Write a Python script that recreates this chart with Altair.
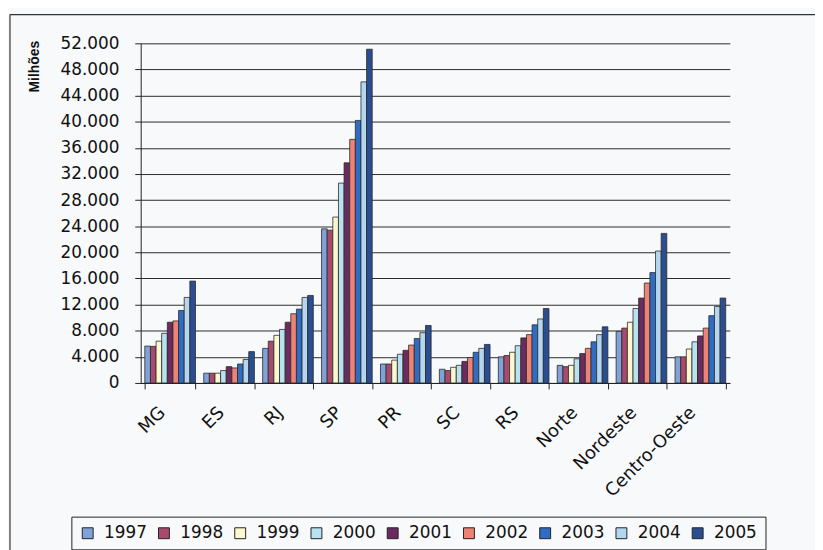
import altair as alt
import pandas as pd

regions = ["MG", "ES", "RJ", "SP", "PR", "SC", "RS", "Norte", "Nordeste", "Centro-Oeste"]
years = ["1997", "1998", "1999", "2000", "2001", "2002", "2003", "2004", "2005"]

v1997 = [5650, 1500, 5300, 23600, 2900, 2100, 4000, 2700, 7900, 4000]
v1998 = [5600, 1500, 6400, 23400, 2900, 1900, 4200, 2500, 8400, 4000]
v1999 = [6400, 1500, 7300, 25400, 3500, 2400, 4700, 2700, 9300, 5200]
v2000 = [7600, 1900, 8200, 30600, 4400, 2700, 5700, 3700, 11400, 6300]
v2001 = [9300, 2500, 9300, 33700, 5000, 3300, 6900, 4500, 13000, 7200]
v2002 = [9500, 2300, 10600, 37300, 5800, 3900, 7400, 5300, 15300, 8400]
v2003 = [11100, 2900, 11300, 40200, 6800, 4700, 8900, 6300, 16900, 10300]
v2004 = [13100, 3600, 13100, 46100, 7700, 5300, 9800, 7400, 20200, 11700]
v2005 = [15600, 4800, 13400, 51100, 8800, 5900, 11400, 8600, 22900, 13000]

series = [v1997, v1998, v1999, v2000, v2001, v2002, v2003, v2004, v2005]
colors = ["#7fa3d9", "#a84a6c", "#fbf8cf", "#b8e2ef", "#6a2b60",
          "#ee8274", "#2f6cc2", "#b4d6ef", "#2b4d92"]
y_ticks = list(range(0, 52001, 4000))

rows = []
for y, vals in zip(years, series):
    for r, v in zip(regions, vals):
        rows.append({"region": r, "year": y, "value": v})
df = pd.DataFrame(rows)

FONT = "DejaVu Sans"

bars = alt.Chart(df).mark_bar(stroke="#2a2a2a", strokeWidth=0.8).encode(
    x=alt.X("region:N", sort=regions,
            scale=alt.Scale(paddingInner=0.14, paddingOuter=0.07),
            axis=alt.Axis(title=None, labelAngle=-45, labelAlign="right",
                          labelBaseline="middle", labelPadding=21,
                          labelOffset=-8,
                          labelFontSize=18, labelFont=FONT, labelColor="#111",
                          tickBand="extent", tickSize=6, tickColor="#222",
                          domainColor="#222", grid=False)),
    xOffset=alt.XOffset("year:N", sort=years),
    y=alt.Y("value:Q", scale=alt.Scale(domain=[0, 52000], nice=False),
            axis=alt.Axis(values=y_ticks, title="Milhões",
                          labelExpr="replace(format(datum.value, ',d'), ',', '.')",
                          labelFontSize=17, labelFont=FONT, labelColor="#111",
                          labelPadding=16, tickSize=6, tickColor="#222",
                          domainColor="#222", gridColor="#2a2a2a", gridWidth=1,
                          titleFont="Liberation Sans", titleFontSize=14,
                          titleFontWeight="bold", titleColor="#111",
                          titleAngle=-90, titleX=-107, titleY=-3,
                          titleAlign="right", titleBaseline="middle")),
    color=alt.Color("year:N", sort=years,
                    scale=alt.Scale(domain=years, range=colors),
                    legend=alt.Legend(title=None, orient="none", legendX=-70,
                                      legendY=478, direction="horizontal",
                                      columns=9, symbolType="square",
                                      symbolSize=121, symbolStrokeColor="#222",
                                      symbolStrokeWidth=1, labelFont=FONT,
                                      labelFontSize=17, labelColor="#111",
                                      labelOffset=8, columnPadding=8,
                                      padding=8, strokeColor="#222")),
)

frame_left = alt.Chart(alt.Data(values=[{"a": 1}])).mark_rule(
    color="#333", strokeWidth=1.2).encode(
    x=alt.value(-132), y=alt.value(-29), y2=alt.value(520))
frame_top = alt.Chart(alt.Data(values=[{"a": 1}])).mark_rule(
    color="#333", strokeWidth=1.2).encode(
    x=alt.value(-132), x2=alt.value(700), y=alt.value(-29))

chart = alt.layer(frame_left, frame_top, bars).properties(
    width=595, height=343,
    autosize=alt.AutoSizeParams(type="none"),
    padding={"left": 134, "top": 33, "right": 86, "bottom": 166},
    background="#f8f9fa",
).configure_view(strokeWidth=0)

chart.save("out.html", embed_options={"renderer": "svg", "actions": False})
